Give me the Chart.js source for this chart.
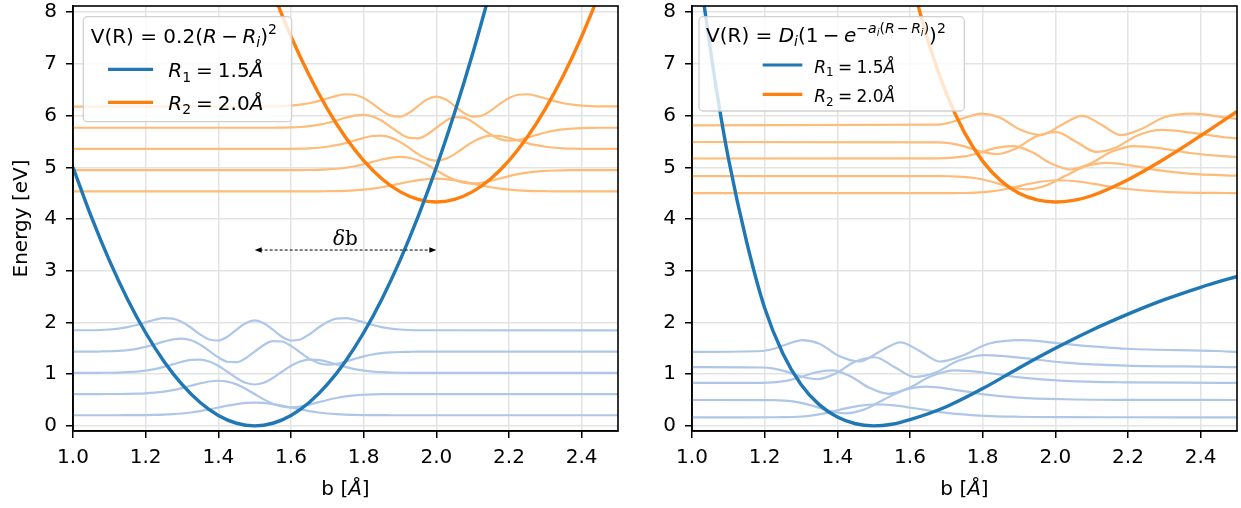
<!DOCTYPE html>
<html>
<head>
<meta charset="utf-8">
<script src="https://cdn.jsdelivr.net/npm/chart.js@4.4.1/dist/chart.umd.min.js"></script>
<style>
  body { margin: 0; background: #fff; }
  canvas { position: absolute; top: 0; }
</style>
</head>
<body>
<canvas id="harmonic" width="620" height="508" style="left:0"></canvas>
<canvas id="morse" width="621" height="508" style="left:620px"></canvas>
<script>
// ---- values ----
const xTicks = [1.0, 1.2, 1.4, 1.6, 1.8, 2.0, 2.2, 2.4];
const yTicks = [0, 1, 2, 3, 4, 5, 6, 7, 8];

// left panel: harmonic potentials
const harmBlueR = [1.00, 1.05, 1.10, 1.15, 1.20, 1.25, 1.30, 1.35, 1.40, 1.45, 1.50, 1.55, 1.60, 1.65, 1.70, 1.75, 1.80, 1.85, 1.90, 1.95, 2.00, 2.05, 2.10, 2.15];
const harmBlueV = [5.00, 4.05, 3.20, 2.45, 1.80, 1.25, 0.80, 0.45, 0.20, 0.05, 0.00, 0.05, 0.20, 0.45, 0.80, 1.25, 1.80, 2.45, 3.20, 4.05, 5.00, 6.05, 7.20, 8.45];
const harmOrangeR = [1.55, 1.60, 1.65, 1.70, 1.75, 1.80, 1.85, 1.90, 1.95, 2.00, 2.05, 2.10, 2.15, 2.20, 2.25, 2.30, 2.35, 2.40, 2.45];
const harmOrangeV = [8.38, 7.53, 6.78, 6.13, 5.58, 5.13, 4.78, 4.53, 4.38, 4.33, 4.38, 4.53, 4.78, 5.13, 5.58, 6.13, 6.78, 7.53, 8.38];

// left panel: vibrational levels and wavefunction shapes (offset from the well centre)
const harmCenters = [1.5, 2.0];
const harmLevelsBlue = [0.205, 0.615, 1.025, 1.435, 1.845];
const harmLevelsOrange = [4.535, 4.945, 5.355, 5.765, 6.175];
const harmOffsets = [-1.0, -0.45, -0.425, -0.4, -0.375, -0.35, -0.325, -0.3, -0.275, -0.25, -0.225, -0.2, -0.175, -0.15, -0.125, -0.1, -0.075, -0.05, -0.025,
  0, 0.025, 0.05, 0.075, 0.1, 0.125, 0.15, 0.175, 0.2, 0.225, 0.25, 0.275, 0.3, 0.325, 0.35, 0.375, 0.4, 0.425, 0.45, 1.0];
const harmPsi0 = [0, 0, 0, 0, 0, .001, .001, .003, .006, .011, .020, .033, .053, .080, .112, .149, .185, .216, .238,
  .245, .238, .216, .185, .149, .112, .080, .053, .033, .020, .011, .006, .003, .001, .001, 0, 0, 0, 0, 0];
const harmPsi1 = [0, 0, 0, .001, .001, .003, .007, .014, .027, .047, .076, .115, .161, .207, .243, .257, .240, .187, .103,
  0, -.103, -.187, -.240, -.257, -.243, -.207, -.161, -.115, -.076, -.047, -.027, -.014, -.007, -.003, -.001, -.001, 0, 0, 0];
const harmPsi2 = [0, 0, .001, .002, .005, .012, .023, .043, .073, .114, .164, .214, .251, .257, .220, .137, .021, -.100, -.192,
  -.226, -.192, -.100, .021, .137, .220, .257, .251, .214, .164, .114, .073, .043, .023, .012, .005, .002, .001, 0, 0];
const harmPsi3 = [0, 0, .003, .007, .015, .030, .055, .092, .140, .193, .236, .250, .219, .135, .013, -.112, -.196, -.204, -.129,
  0, .129, .204, .196, .112, -.013, -.135, -.219, -.250, -.236, -.193, -.140, -.092, -.055, -.030, -.015, -.007, -.003, 0, 0];
const harmPsi4 = [0, .004, .008, .018, .036, .064, .106, .156, .207, .238, .229, .165, .052, -.078, -.176, -.195, -.121, .014, .141,
  .193, .141, .014, -.121, -.195, -.176, -.078, .052, .165, .229, .238, .207, .156, .106, .064, .036, .018, .008, .004, 0];
const harmPsi = [harmPsi0, harmPsi1, harmPsi2, harmPsi3, harmPsi4];

// right panel: Morse potentials
const morseBlueR = [1.00, 1.025, 1.05, 1.075, 1.10, 1.15, 1.20, 1.25, 1.30, 1.35, 1.40, 1.45, 1.50, 1.55, 1.60, 1.70, 1.80, 1.90, 2.00, 2.10, 2.20, 2.30, 2.40, 2.50];
const morseBlueV = [10.06, 8.59, 7.31, 6.17, 5.18, 3.57, 2.28, 1.40, 0.80, 0.41, 0.17, 0.04, 0.00, 0.03, 0.12, 0.37, 0.72, 1.12, 1.50, 1.85, 2.16, 2.44, 2.68, 2.89];
const morseOrangeR = [1.60, 1.625, 1.65, 1.70, 1.75, 1.80, 1.85, 1.90, 1.95, 2.00, 2.05, 2.10, 2.20, 2.30, 2.40, 2.50];
const morseOrangeV = [8.76, 8.06, 7.44, 6.43, 5.67, 5.12, 4.74, 4.50, 4.37, 4.33, 4.36, 4.45, 4.76, 5.16, 5.61, 6.08];

// right panel: Morse wavefunctions (b, energy)
const mBlue0R = [1.0, 1.2225, 1.255, 1.29, 1.327, 1.367, 1.4107, 1.458, 1.51, 1.5677, 1.6325, 1.7065, 1.792, 1.895, 2.023, 2.193, 2.5];
const mBlue0V = [.165, .1655, .168, .176, .199, .246, .317, .386, .415, .386, .317, .246, .199, .176, .168, .1655, .165];
const mBlue1R = [1.0, 1.2233, 1.2567, 1.2934, 1.3329, 1.3761, 1.4232, 1.473, 1.526, 1.5827, 1.645, 1.7156, 1.7979, 1.8984, 2.0247, 2.1938, 2.5];
const mBlue1V = [.50, .4968, .4859, .4534, .3852, .2934, .2427, .3128, .50, .6872, .7573, .7066, .6148, .5466, .5141, .5032, .50];
const mBlue2R = [1.0, 1.1926, 1.224, 1.2584, 1.2967, 1.3388, 1.3852, 1.4356, 1.488, 1.542, 1.5977, 1.6574, 1.7247, 1.8038, 1.9017, 2.0264, 2.1945, 2.4456, 2.5];
const mBlue2V = [.83, .832, .841, .87, .937, 1.031, 1.071, .959, .736, .618, .736, .959, 1.071, 1.031, .937, .87, .841, .832, .83];
const mBlue3R = [1.0, 1.193, 1.2248, 1.26, 1.3001, 1.3447, 1.3944, 1.4481, 1.5031, 1.558, 1.6128, 1.6699, 1.7339, 1.8097, 1.9051, 2.028, 2.1953, 2.4459, 2.5];
const mBlue3V = [1.135, 1.128, 1.107, 1.049, .954, .901, 1.009, 1.240, 1.326, 1.135, .944, 1.030, 1.262, 1.369, 1.316, 1.222, 1.164, 1.142, 1.135];
const mBlue4R = [1.0, 1.1932, 1.2255, 1.2617, 1.3034, 1.3506, 1.4035, 1.4606, 1.5181, 1.574, 1.6278, 1.6824, 1.743, 1.8156, 1.9084, 2.0297, 2.196, 2.4462, 2.5];
const mBlue4V = [1.43, 1.447, 1.491, 1.579, 1.657, 1.587, 1.355, 1.244, 1.444, 1.614, 1.444, 1.244, 1.355, 1.587, 1.657, 1.579, 1.491, 1.447, 1.43];

const mOrange0R = [1.0, 1.7102, 1.7454, 1.7826, 1.8221, 1.8643, 1.9093, 1.9577, 2.01, 2.067, 2.1294, 2.1986, 2.2761, 2.3642, 2.4663, 2.5876];
const mOrange0V = [4.50, 4.5005, 4.503, 4.511, 4.534, 4.581, 4.652, 4.721, 4.75, 4.721, 4.652, 4.581, 4.534, 4.511, 4.503, 4.5005];
const mOrange1R = [1.0, 1.6771, 1.711, 1.7471, 1.786, 1.828, 1.8734, 1.9218, 1.9727, 2.026, 2.082, 2.1419, 2.2077, 2.282, 2.3676, 2.468, 2.5884];
const mOrange1V = [4.83, 4.8294, 4.8268, 4.8159, 4.7834, 4.7152, 4.6234, 4.5727, 4.6428, 4.83, 5.0172, 5.0873, 5.0366, 4.9448, 4.8766, 4.8441, 4.8332];
const mOrange2R = [1.0, 1.6774, 1.7117, 1.7488, 1.7893, 1.8339, 1.8825, 1.9342, 1.9877, 2.042, 2.097, 2.1543, 2.2168, 2.2879, 2.3709, 2.4697, 2.5891];
const mOrange2V = [5.17, 5.172, 5.181, 5.21, 5.277, 5.371, 5.411, 5.299, 5.076, 4.958, 5.076, 5.299, 5.411, 5.371, 5.277, 5.21, 5.181];
const mOrange3R = [1.0, 1.6777, 1.7125, 1.7504, 1.7927, 1.8398, 1.8917, 1.9467, 2.0028, 2.058, 2.1121, 2.1668, 2.226, 2.2938, 2.3743, 2.4713, 2.5899];
const mOrange3V = [5.49, 5.483, 5.462, 5.404, 5.309, 5.256, 5.364, 5.595, 5.681, 5.49, 5.299, 5.385, 5.617, 5.724, 5.671, 5.577, 5.519];
const mOrange4R = [1.0, 1.678, 1.7132, 1.7521, 1.796, 1.8457, 1.9008, 1.9592, 2.0178, 2.074, 2.1271, 2.1793, 2.2351, 2.2997, 2.3776, 2.473, 2.5906];
const mOrange4V = [5.81, 5.827, 5.871, 5.959, 6.037, 5.967, 5.735, 5.624, 5.824, 5.994, 5.824, 5.624, 5.735, 5.967, 6.037, 5.959, 5.871];

// δb arrow, between the two well centres
const arrowB = [1.5, 2.0];
const arrowE = 3.4;

// ---- styling ----
const FONT = "'DejaVu Sans', sans-serif";
const C_BLUE = '#1f77b4', C_ORANGE = '#ff7f0e';
const C_LBLUE = '#aec7e8', C_LORANGE = '#ffbb78';

const pts = (xs, ys) => xs.map((x, i) => ({ x, y: ys[i] }));

function line(data, color, width, order) {
    return {
        data, borderColor: color, borderWidth: width, pointRadius: 0, fill: false,
        cubicInterpolationMode: 'monotone', order
    };
}

// mathtext-ish runs: [text, style]  or  [em, 'gap']
const RUN = {
    n: { it: false, k: 1.0, dy: 0 },
    i: { it: true, k: 1.0, dy: 0 },
    sub: { it: false, k: 0.7, dy: 0.22 },
    isub: { it: true, k: 0.7, dy: 0.22 },
    sup: { it: false, k: 0.7, dy: -0.42 },
    isup: { it: true, k: 0.7, dy: -0.42 },
    isupsub: { it: true, k: 0.5, dy: -0.30 }
};

function drawRuns(ctx, runs, x, y, size, draw = true) {
    let cx = x;
    ctx.textBaseline = 'alphabetic';
    ctx.textAlign = 'left';
    for (const [t, st] of runs) {
        if (st === 'gap') { cx += t * size; continue; }
        const r = RUN[st];
        ctx.font = `${r.it ? 'italic ' : ''}${(size * r.k).toFixed(1)}px ${FONT}`;
        if (draw) ctx.fillText(t, cx, y + r.dy * size);
        cx += ctx.measureText(t).width;
    }
    return cx - x;
}

const entryR1 = [['R', 'i'], ['1', 'sub'], [0.25, 'gap'], ['=', 'n'], [0.25, 'gap'], ['1.5', 'n'], ['Å', 'i']];
const entryR2 = [['R', 'i'], ['2', 'sub'], [0.25, 'gap'], ['=', 'n'], [0.25, 'gap'], ['2.0', 'n'], ['Å', 'i']];

const legendHarm = {
    box: [10.3, 10.7, 208.4, 105], title: [17.7, 36.7], titleSize: 20,
    titleRuns: [['V(R) = 0.2(', 'n'], ['R', 'i'], [0.22, 'gap'], ['−', 'n'], [0.22, 'gap'], ['R', 'i'], ['i', 'isub'], [')', 'n'], ['2', 'sup']],
    handle: [35, 80], rows: [63.3, 96.3], textX: 95.3, base: [71.3, 104], size: 20
};
const legendMorse = {
    box: [7, 10.7, 265.3, 94.3], title: [14, 35.7], titleSize: 20,
    titleRuns: [['V(R) = ', 'n'], ['D', 'i'], ['i', 'isub'], ['(1', 'n'], [0.22, 'gap'], ['−', 'n'], [0.22, 'gap'], ['e', 'i'],
        ['−', 'sup'], ['a', 'isup'], ['i', 'isupsub'], ['(', 'sup'], ['R', 'isup'], [0.12, 'gap'], ['−', 'sup'], [0.12, 'gap'],
        ['R', 'isup'], ['i', 'isupsub'], [')', 'sup'], [')', 'n'], ['2', 'sup']],
    handle: [70.7, 110.3], rows: [59, 88.3], textX: 122.3, base: [66.7, 96], size: 17
};

function legendPlugin(spec) {
    return {
        id: 'mplLegend',
        afterDraw(chart) {
            const ctx = chart.ctx, a = chart.chartArea;
            const [bx, by, bw, bh] = spec.box;
            ctx.save();
            ctx.beginPath();
            ctx.roundRect(a.left + bx, a.top + by, bw, bh, 4);
            ctx.fillStyle = 'rgba(255,255,255,0.8)';
            ctx.fill();
            ctx.strokeStyle = 'rgba(204,204,204,0.9)';
            ctx.lineWidth = 1.3;
            ctx.stroke();
            ctx.fillStyle = '#000';
            drawRuns(ctx, spec.titleRuns, a.left + spec.title[0], a.top + spec.title[1], spec.titleSize);
            [[C_BLUE, entryR1], [C_ORANGE, entryR2]].forEach(([col, runs], k) => {
                ctx.beginPath();
                ctx.strokeStyle = col;
                ctx.lineWidth = 3.2;
                ctx.moveTo(a.left + spec.handle[0], a.top + spec.rows[k]);
                ctx.lineTo(a.left + spec.handle[1], a.top + spec.rows[k]);
                ctx.stroke();
                ctx.fillStyle = '#000';
                drawRuns(ctx, runs, a.left + spec.textX, a.top + spec.base[k], spec.size);
            });
            ctx.restore();
        }
    };
}

// frame + axis titles
function framePlugin(withYTitle) {
    return {
        id: 'frame',
        afterDatasetsDraw(chart) {
            const ctx = chart.ctx, a = chart.chartArea;
            ctx.save();
            ctx.strokeStyle = '#000';
            ctx.lineWidth = 1.6;
            ctx.strokeRect(a.left, a.top, a.right - a.left, a.bottom - a.top);
            ctx.restore();
        },
        afterDraw(chart) {
            const ctx = chart.ctx, a = chart.chartArea;
            ctx.save();
            ctx.fillStyle = '#000';
            const xt = [['b [', 'n'], ['Å', 'i'], [']', 'n']];
            const w = drawRuns(ctx, xt, 0, 0, 20, false);
            drawRuns(ctx, xt, (a.left + a.right) / 2 - w / 2, 495, 20);
            if (withYTitle) {
                ctx.translate(27, (a.top + a.bottom) / 2);
                ctx.rotate(-Math.PI / 2);
                ctx.font = `20px ${FONT}`;
                ctx.textAlign = 'center';
                ctx.textBaseline = 'alphabetic';
                ctx.fillText('Energy [eV]', 0, 0);
            }
            ctx.restore();
        }
    };
}

const arrowPlugin = {
    id: 'deltaB',
    afterDatasetsDraw(chart) {
        const ctx = chart.ctx, xs = chart.scales.x, ys = chart.scales.y;
        const x1 = xs.getPixelForValue(arrowB[0]), x2 = xs.getPixelForValue(arrowB[1]);
        const y = ys.getPixelForValue(arrowE);
        ctx.save();
        ctx.strokeStyle = '#000';
        ctx.fillStyle = '#000';
        ctx.lineWidth = 1;
        ctx.setLineDash([3, 2]);
        ctx.beginPath();
        ctx.moveTo(x1 + 5, y);
        ctx.lineTo(x2 - 5, y);
        ctx.stroke();
        ctx.setLineDash([]);
        ctx.beginPath();
        ctx.moveTo(x1, y); ctx.lineTo(x1 + 7, y - 2.8); ctx.lineTo(x1 + 7, y + 2.8); ctx.closePath();
        ctx.moveTo(x2, y); ctx.lineTo(x2 - 7, y - 2.8); ctx.lineTo(x2 - 7, y + 2.8); ctx.closePath();
        ctx.fill();
        ctx.font = "italic 20px 'DejaVu Serif', serif";
        const wd = ctx.measureText('δ').width;
        ctx.font = "20px 'DejaVu Serif', serif";
        const wb = ctx.measureText('b').width;
        const xc = (x1 + x2) / 2 - (wd + wb) / 2;
        ctx.textBaseline = 'alphabetic';
        ctx.textAlign = 'left';
        ctx.font = "italic 20px 'DejaVu Serif', serif";
        ctx.fillText('δ', xc, y - 5);
        ctx.font = "20px 'DejaVu Serif', serif";
        ctx.fillText('b', xc + wd, y - 5);
        ctx.restore();
    }
};

function makeScales(yWidth) {
    const grid = { color: '#e3e3e3', lineWidth: 1.5, tickLength: 7, tickColor: '#000', tickWidth: 1.5, drawTicks: true };
    const border = { display: true, color: '#000', width: 1.6 };
    return {
        x: {
            type: 'linear', min: 1.0, max: 2.5,
            afterBuildTicks: s => { s.ticks = xTicks.map(v => ({ value: v })); },
            afterFit: s => { s.height = 77; s.paddingLeft = 0; s.paddingRight = 0; },
            grid, border,
            ticks: { autoSkip: false, maxRotation: 0, padding: 8, color: '#000', font: { family: FONT, size: 20 }, callback: v => Number(v).toFixed(1) }
        },
        y: {
            type: 'linear', min: -0.1, max: 8.12,
            afterBuildTicks: s => { s.ticks = yTicks.map(v => ({ value: v })); },
            afterFit: s => { s.width = yWidth; s.paddingTop = 0; s.paddingBottom = 0; },
            grid, border,
            ticks: { autoSkip: false, padding: 9, color: '#000', font: { family: FONT, size: 20 }, callback: v => String(v) }
        }
    };
}

function makeChart(id, datasets, yWidth, padRight, plugins) {
    return new Chart(document.getElementById(id), {
        type: 'line',
        data: { datasets },
        options: {
            responsive: false, animation: false,
            layout: { padding: { top: 6, right: padRight, left: 0, bottom: 0 } },
            plugins: { legend: { display: false }, tooltip: { enabled: false } },
            scales: makeScales(yWidth)
        },
        plugins
    });
}

// ---- left: harmonic ----
const harmSets = [
    line(pts(harmBlueR, harmBlueV), C_BLUE, 3.4, 0),
    line(pts(harmOrangeR, harmOrangeV), C_ORANGE, 3.4, 0)
];
harmLevelsBlue.forEach((E, n) => {
    harmSets.push(line(pts(harmOffsets.map(o => harmCenters[0] + o), harmPsi[n].map(p => E + p)), C_LBLUE, 2.2, 1));
});
harmLevelsOrange.forEach((E, n) => {
    harmSets.push(line(pts(harmOffsets.map(o => harmCenters[1] + o), harmPsi[n].map(p => E + p)), C_LORANGE, 2.2, 1));
});
makeChart('harmonic', harmSets, 73, 2, [framePlugin(true), arrowPlugin, legendPlugin(legendHarm)]);

// ---- right: Morse ----
const morseSets = [
    line(pts(morseBlueR, morseBlueV), C_BLUE, 3.4, 0),
    line(pts(morseOrangeR, morseOrangeV), C_ORANGE, 3.4, 0)
];
[[mBlue0R, mBlue0V], [mBlue1R, mBlue1V], [mBlue2R, mBlue2V], [mBlue3R, mBlue3V], [mBlue4R, mBlue4V]]
    .forEach(([r, v]) => morseSets.push(line(pts(r, v), C_LBLUE, 2.2, 1)));
[[mOrange0R, mOrange0V], [mOrange1R, mOrange1V], [mOrange2R, mOrange2V], [mOrange3R, mOrange3V], [mOrange4R, mOrange4V]]
    .forEach(([r, v]) => morseSets.push(line(pts(r, v), C_LORANGE, 2.2, 1)));
makeChart('morse', morseSets, 72, 4, [framePlugin(false), legendPlugin(legendMorse)]);
</script>
</body>
</html>
